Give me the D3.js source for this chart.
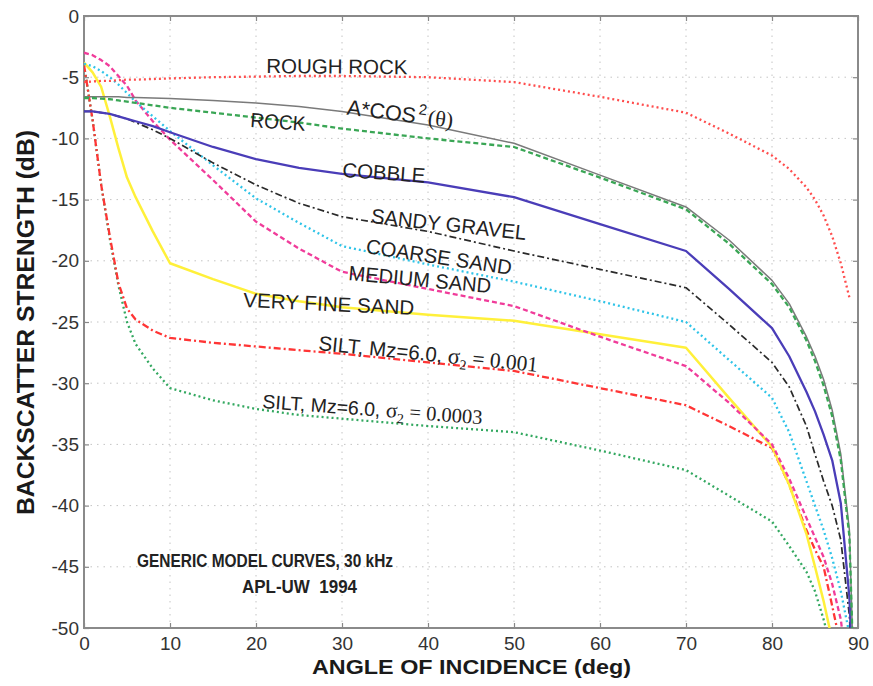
<!DOCTYPE html>
<html><head><meta charset="utf-8">
<script src="https://cdn.jsdelivr.net/npm/d3@7"></script>
<style>body{margin:0;background:#fff}svg{display:block}</style>
</head><body>
<svg id="chart" width="873" height="686"></svg>
<script>
// ---------- data ----------
const angles = [0,1,2,3,4,5,6,8,10,15,20,25,30,40,50,60,70,75,80,82,84,85,86,87,88,89,89.5];
const roughRock    = [-5.4,-5.35,-5.3,-5.3,-5.25,-5.2,-5.2,-5.15,-5.1,-5.0,-4.95,-4.9,-4.9,-5.0,-5.4,-6.6,-7.9,-9.6,-11.4,-12.5,-14.0,-15.0,-16.3,-18.0,-20.2,-23.0,null];
const aCosSq       = [-6.6,-6.6,-6.6,-6.6,-6.6,-6.65,-6.65,-6.7,-6.75,-6.9,-7.1,-7.4,-7.8,-8.9,-10.4,-13.0,-15.6,-18.3,-21.6,-23.5,-26.2,-27.8,-29.7,-32.2,-35.8,-42.0,-54];
const rock         = [-6.7,-6.7,-6.75,-6.8,-6.9,-7.0,-7.1,-7.3,-7.5,-7.9,-8.3,-8.7,-9.2,-10.0,-10.7,-13.2,-15.8,-18.6,-21.9,-23.8,-26.5,-28.2,-30.2,-32.7,-36.3,-42.5,-54];
const cobble       = [-7.8,-7.8,-7.9,-8.0,-8.2,-8.4,-8.6,-9.0,-9.5,-10.7,-11.7,-12.4,-12.9,-13.6,-14.8,-17.0,-19.2,-22.3,-25.5,-27.8,-30.7,-32.3,-34.2,-36.3,-39.8,-47.5,-56];
const sandyGravel  = [-7.8,-7.8,-7.9,-8.0,-8.2,-8.4,-8.7,-9.3,-10.0,-12.0,-13.8,-15.3,-16.4,-17.6,-19.2,-20.7,-22.2,-25.2,-28.3,-30.3,-33.5,-35.8,-38.0,-40.0,-42.8,-49.0,-56];
const coarseSand   = [-3.9,-4.1,-4.5,-5.0,-5.6,-6.3,-7.0,-8.2,-9.4,-12.2,-14.9,-16.9,-18.8,-20.3,-21.7,-23.3,-25.0,-28.1,-31.2,-34.0,-38.0,-40.0,-42.0,-44.3,-47.0,-50.5,-56];
const mediumSand   = [-3.0,-3.2,-3.6,-4.1,-4.9,-5.7,-6.9,-8.6,-10.1,-13.4,-16.8,-19.0,-20.9,-22.3,-23.7,-26.2,-28.6,-31.6,-35.0,-37.8,-41.0,-42.6,-44.2,-46.4,-49.3,-55,null];
const veryFineSand = [-3.8,-4.6,-5.8,-8.2,-10.8,-13.2,-14.8,-17.6,-20.2,-21.5,-22.7,-23.3,-23.8,-24.4,-24.9,-26.0,-27.1,-31.2,-35.2,-38.3,-42.3,-45.0,-47.8,-51.0,-56,null,null];
const silt001      = [-4.0,-8.5,-13.8,-18.0,-21.8,-23.9,-24.8,-25.7,-26.3,-26.7,-27.0,-27.3,-27.6,-28.3,-29.0,-30.4,-31.8,-33.5,-35.3,-38.3,-42.0,-43.6,-45.0,-48.2,-51.5,null,null];
const silt0003     = [-4.0,-8.5,-13.8,-18.2,-22.0,-25.0,-26.8,-28.8,-30.4,-31.4,-32.1,-32.6,-32.9,-33.5,-34.0,-35.5,-37.1,-39.2,-41.3,-43.3,-45.4,-47.0,-49.3,-52.0,null,null,null];

const xTickValues = [0,10,20,30,40,50,60,70,80,90];
const yTickValues = [0,-5,-10,-15,-20,-25,-30,-35,-40,-45,-50];

// ---------- styles ----------
const series = [
  {values: silt0003,     color:"#33a860", width:2.3, dash:"2,3"},
  {values: silt001,      color:"#ff3535", width:2.3, dash:"7,3,2,3"},
  {values: veryFineSand, color:"#fff03a", width:2.5, dash:null},
  {values: mediumSand,   color:"#f03c9a", width:2.3, dash:"5,3"},
  {values: coarseSand,   color:"#2fc4e8", width:2.3, dash:"2,3"},
  {values: sandyGravel,  color:"#2a2a2a", width:1.7, dash:"7,3,2,3"},
  {values: cobble,       color:"#4a3db8", width:2.3, dash:null},
  {values: aCosSq,       color:"#7a7a7a", width:1.5, dash:null},
  {values: rock,         color:"#3aa655", width:2.3, dash:"5,3"},
  {values: roughRock,    color:"#ff4d4d", width:2.3, dash:"2,3"}
];

const svg = d3.select("#chart");
const x = d3.scaleLinear().domain([0,90]).range([84,858]);
const y = d3.scaleLinear().domain([-50,0]).range([628,16]);
const SANS = "'Liberation Sans', Arial, Helvetica, sans-serif";
const SERIF = "'Liberation Serif', 'Times New Roman', serif";

// grid
const grid = svg.append("g").attr("stroke","#c4c4c4").attr("stroke-width",1).attr("stroke-dasharray","1.5,5");
xTickValues.slice(1,-1).forEach(v=>grid.append("line").attr("x1",x(v)).attr("x2",x(v)).attr("y1",y(0)).attr("y2",y(-50)));
yTickValues.slice(1,-1).forEach(v=>grid.append("line").attr("x1",x(0)).attr("x2",x(90)).attr("y1",y(v)).attr("y2",y(v)));

// axes
const ax = svg.append("g").attr("transform",`translate(0,${y(-50)})`)
  .call(d3.axisBottom(x).tickValues(xTickValues).tickSize(-5).tickPadding(9).tickFormat(d=>String(d)));
const axT = svg.append("g").attr("transform",`translate(0,${y(0)})`)
  .call(d3.axisTop(x).tickValues(xTickValues).tickSize(-5).tickFormat(""));
const ay = svg.append("g").attr("transform",`translate(${x(0)},0)`)
  .call(d3.axisLeft(y).tickValues(yTickValues).tickSize(-5).tickPadding(5).tickFormat(d=>String(d)));
const ayR = svg.append("g").attr("transform",`translate(${x(90)},0)`)
  .call(d3.axisRight(y).tickValues(yTickValues).tickSize(-5).tickFormat(""));
[ax,axT,ay,ayR].forEach(g=>{
  g.select(".domain").remove();
  g.selectAll(".tick line").attr("stroke","#888").attr("stroke-width",1.2);
  g.selectAll("text").attr("font-family",SANS).attr("font-size",19).attr("fill","#333");
});

// frame
svg.append("rect").attr("x",x(0)).attr("y",y(0)).attr("width",x(90)-x(0)).attr("height",y(-50)-y(0))
  .attr("fill","none").attr("stroke","#8a8a8a").attr("stroke-width",2);

// clip
svg.append("clipPath").attr("id","clip").append("rect")
  .attr("x",x(0)).attr("y",y(0)).attr("width",x(90)-x(0)).attr("height",y(-50)-y(0));

const line = d3.line().defined(d=>d[1]!=null).x(d=>x(d[0])).y(d=>y(d[1]));
const lg = svg.append("g").attr("clip-path","url(#clip)");
series.forEach(s=>{
  lg.append("path").datum(angles.map((a,i)=>[a,s.values[i]]))
    .attr("d",line).attr("fill","none").attr("stroke",s.color)
    .attr("stroke-width",s.width).attr("stroke-dasharray",s.dash)
    .attr("stroke-linejoin","round");
});

// curve labels (anchor in data coordinates: angle, dB)
const simpleLabels = [
  {t:"ROUGH ROCK",     a:21.2, d:-4.66,  rot:0.5, len:141},
  {t:"ROCK",           a:19.3, d:-9.07,  rot:4,   len:55},
  {t:"COBBLE",         a:30.0, d:-13.15, rot:4,   len:83},
  {t:"SANDY GRAVEL",   a:33.3, d:-16.9,  rot:6.3, len:156},
  {t:"COARSE SAND",    a:32.7, d:-19.36, rot:8.6, len:147},
  {t:"MEDIUM SAND",    a:30.7, d:-21.57, rot:5.2, len:143},
  {t:"VERY FINE SAND", a:18.5, d:-23.77, rot:2.7, len:171}
];
const lab = svg.append("g").attr("fill","#222").attr("font-family",SANS);
simpleLabels.forEach(l=>{
  lab.append("text").attr("transform",`translate(${x(l.a)},${y(l.d)}) rotate(${l.rot})`)
    .attr("font-size",20.5).attr("textLength",l.len).attr("lengthAdjust","spacingAndGlyphs").text(l.t);
});

// A*COS^2(theta)
{
  const t = lab.append("text").attr("transform",`translate(${x(30.5)},${y(-8.05)}) rotate(7)`).attr("font-size",21.5);
  t.append("tspan").text("A*COS");
  t.append("tspan").attr("font-size",15).attr("dy",-9).attr("dx",2).text("2");
  t.append("tspan").attr("dy",9).attr("dx",2).attr("font-family",SERIF).attr("font-size",22).text("(θ)");
}
// silt labels
function siltLabel(a,d,rot,val,fs){
  const t = lab.append("text").attr("transform",`translate(${x(a)},${y(d)}) rotate(${rot})`).attr("font-size",fs);
  t.append("tspan").text("SILT, Mz=6.0, ");
  t.append("tspan").attr("font-family",SERIF).attr("font-size",fs+2).text("σ");
  t.append("tspan").attr("font-family",SERIF).attr("font-size",14).attr("dy",5).text("2");
  t.append("tspan").attr("font-family",SERIF).attr("font-size",fs+1).attr("dy",-5).text(" = "+val);
}
siltLabel(27.2,-27.29,5.7,"0.001",20.5);
siltLabel(20.7,-32.03,4.2,"0.0003",19.5);

// annotation
svg.append("text").attr("x",137).attr("y",567).attr("font-family",SANS).attr("font-weight","bold")
  .attr("font-size",19).attr("fill","#222").attr("textLength",256).attr("lengthAdjust","spacingAndGlyphs")
  .text("GENERIC MODEL CURVES, 30 kHz");
svg.append("text").attr("x",242).attr("y",593).attr("font-family",SANS).attr("font-weight","bold")
  .attr("font-size",19).attr("fill","#222").attr("textLength",115).attr("lengthAdjust","spacingAndGlyphs")
  .attr("xml:space","preserve").text("APL-UW  1994");

// axis titles
svg.append("text").attr("x",312).attr("y",674).attr("font-family",SANS).attr("font-weight","bold")
  .attr("font-size",20).attr("fill","#1a1a1a").attr("textLength",319).attr("lengthAdjust","spacingAndGlyphs")
  .text("ANGLE OF INCIDENCE (deg)");
svg.append("text").attr("transform","translate(34,515) rotate(-90)").attr("font-family",SANS).attr("font-weight","bold")
  .attr("font-size",23).attr("fill","#1a1a1a").attr("textLength",385).attr("lengthAdjust","spacingAndGlyphs")
  .text("BACKSCATTER STRENGTH (dB)");
</script>
</body></html>
